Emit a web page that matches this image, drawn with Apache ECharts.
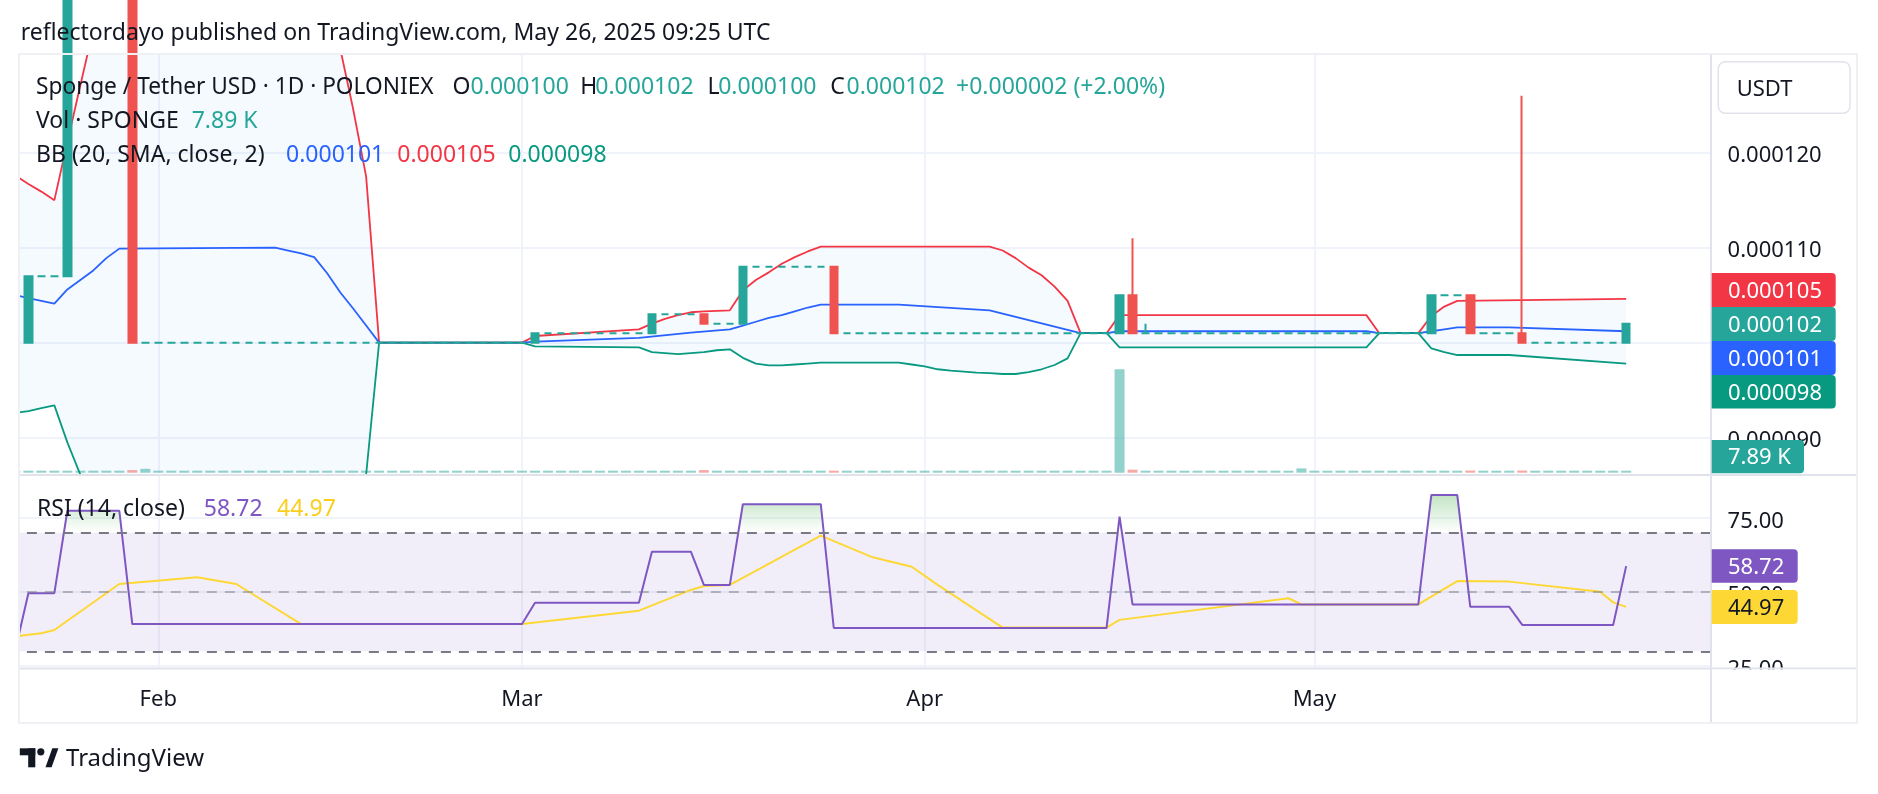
<!DOCTYPE html>
<html>
<head>
<meta charset="utf-8">
<script src="https://cdn.jsdelivr.net/npm/echarts@6.0.0/dist/echarts.min.js"></script>
<style>
  html, body { margin: 0; padding: 0; background: #fff; }
  #chart { width: 1878px; height: 794px; }
</style>
</head>
<body>
<div id="chart"></div>
<script>
// SPONGE / USDT, 1D, Poloniex. prices are in micro-USDT (1e-6), day 0 = 2025-01-21
const startDate = Date.UTC(2025, 0, 21);
const slotCount = 131; // days incl. the empty space right of the last bar
const monthNames = ['Jan', 'Feb', 'Mar', 'Apr', 'May', 'Jun'];

const opens = [
  100, 100, 107, 107, 107, 136, 136, 136, 136, 136,
  100, 100, 100, 100, 100, 100, 100, 100, 100, 100,
  100, 100, 100, 100, 100, 100, 100, 100, 100, 100,
  100, 100, 100, 100, 100, 100, 100, 100, 100, 100,
  100, 101, 101, 101, 101, 101, 101, 101, 101, 101,
  103, 103, 103, 103, 102, 102, 102, 108, 108, 108,
  108, 108, 108, 108, 101, 101, 101, 101, 101, 101,
  101, 101, 101, 101, 101, 101, 101, 101, 101, 101,
  101, 101, 101, 101, 101, 101, 105, 101, 101, 101,
  101, 101, 101, 101, 101, 101, 101, 101, 101, 101,
  101, 101, 101, 101, 101, 101, 101, 101, 101, 101,
  105, 105, 105, 101, 101, 101, 101, 100, 100, 100,
  100, 100, 100, 100, 100
];
const closes = [
  100, 107, 107, 107, 136, 136, 136, 136, 136, 100,
  100, 100, 100, 100, 100, 100, 100, 100, 100, 100,
  100, 100, 100, 100, 100, 100, 100, 100, 100, 100,
  100, 100, 100, 100, 100, 100, 100, 100, 100, 100,
  101, 101, 101, 101, 101, 101, 101, 101, 101, 103,
  103, 103, 103, 102, 102, 102, 108, 108, 108, 108,
  108, 108, 108, 101, 101, 101, 101, 101, 101, 101,
  101, 101, 101, 101, 101, 101, 101, 101, 101, 101,
  101, 101, 101, 101, 101, 105, 101, 101, 101, 101,
  101, 101, 101, 101, 101, 101, 101, 101, 101, 101,
  101, 101, 101, 101, 101, 101, 101, 101, 101, 105,
  105, 105, 101, 101, 101, 101, 100, 100, 100, 100,
  100, 100, 100, 100, 102
];
const lows = [
  100, 100, 107, 107, 107, 136, 136, 136, 136, 100,
  100, 100, 100, 100, 100, 100, 100, 100, 100, 100,
  100, 100, 100, 100, 100, 100, 100, 100, 100, 100,
  100, 100, 100, 100, 100, 100, 100, 100, 100, 100,
  100, 101, 101, 101, 101, 101, 101, 101, 101, 101,
  103, 103, 103, 102, 102, 102, 102, 108, 108, 108,
  108, 108, 108, 101, 101, 101, 101, 101, 101, 101,
  101, 101, 101, 101, 101, 101, 101, 101, 101, 101,
  101, 101, 101, 101, 101, 101, 101, 101, 101, 101,
  101, 101, 101, 101, 101, 101, 101, 101, 101, 101,
  101, 101, 101, 101, 101, 101, 101, 101, 101, 101,
  105, 105, 101, 101, 101, 101, 100, 100, 100, 100,
  100, 100, 100, 100, 100
];
const highs = [
  100, 107, 107, 107, 136, 136, 136, 136, 136, 136,
  100, 100, 100, 100, 100, 100, 100, 100, 100, 100,
  100, 100, 100, 100, 100, 100, 100, 100, 100, 100,
  100, 100, 100, 100, 100, 100, 100, 100, 100, 100,
  101, 101, 101, 101, 101, 101, 101, 101, 101, 103,
  103, 103, 103, 103, 102, 102, 108, 108, 108, 108,
  108, 108, 108, 108, 101, 101, 101, 101, 101, 101,
  101, 101, 101, 101, 101, 101, 101, 101, 101, 101,
  101, 101, 101, 101, 101, 105, 111, 102, 101, 101,
  101, 101, 101, 101, 101, 101, 101, 101, 101, 101,
  101, 101, 101, 101, 101, 101, 101, 101, 101, 105,
  105, 105, 105, 101, 101, 101, 126, 100, 100, 100,
  100, 100, 100, 100, 102
];
const volumes = [
  0, 15000, 0, 0, 20000, 0, 0, 0, 0, 30000,
  45000, 0, 0, 0, 0, 0, 0, 0, 0, 0,
  0, 0, 0, 0, 0, 0, 0, 0, 0, 0,
  0, 0, 0, 0, 0, 0, 0, 0, 0, 0,
  8000, 0, 0, 0, 0, 0, 0, 0, 0, 12000,
  0, 0, 0, 30000, 0, 0, 15000, 0, 0, 0,
  0, 0, 0, 22000, 0, 0, 0, 0, 0, 0,
  0, 0, 0, 0, 0, 0, 0, 0, 0, 0,
  0, 0, 0, 0, 0, 1200000, 35000, 5000, 0, 0,
  0, 0, 0, 0, 0, 0, 0, 0, 0, 50000,
  0, 0, 0, 0, 0, 0, 0, 0, 0, 14000,
  0, 0, 25000, 0, 0, 0, 25000, 0, 0, 0,
  0, 0, 0, 0, 7890
];

// Bollinger bands (20, 2) as [day, value] vertices
const bbUpper = [
  [0, 117.6], [1, 116.7], [2, 115.9], [3, 115.0], [4, 121.1], [5, 127.1], [6, 133.0], [7, 137.5],
  [8, 140.2], [24, 140.0], [25, 131.0], [26, 124.6], [27, 117.5], [28, 100], [39, 100], [40, 100.7],
  [48, 101.4], [49, 102.0], [50, 102.5], [51, 102.9], [52, 103.2], [53, 103.3], [55, 103.4],
  [56, 105.5], [57, 106.6], [58, 107.4], [59, 108.3], [60, 109.0], [61, 109.6], [62, 110.1],
  [75, 110.1], [76, 109.7], [77, 108.9], [78, 107.9], [79, 107.1], [80, 105.9], [81, 104.4],
  [82, 101.0], [84, 101.0], [85, 102.9], [104, 102.9], [105, 101.0], [108, 101.0], [109, 102.8],
  [110, 103.8], [111, 104.4], [124, 104.6]
];
const bbBasis = [
  [0, 105.0], [1, 104.7], [2, 104.4], [3, 104.1], [4, 105.6], [5, 106.6], [6, 107.6], [7, 108.9],
  [8, 109.9], [20, 110.0], [21, 109.7], [22, 109.4], [23, 109.0], [24, 107.3], [25, 105.3],
  [26, 103.6], [27, 101.8], [28, 100], [39, 100], [40, 100.1], [48, 100.5], [52, 101.05],
  [55, 101.4], [56, 101.8], [57, 102.2], [58, 102.6], [59, 102.9], [60, 103.3], [61, 103.7],
  [62, 104.0], [68, 104.0], [75, 103.4], [82, 101.0], [84, 101.0], [85, 101.2], [104, 101.2],
  [105, 101.0], [108, 101.0], [109, 101.2], [110, 101.4], [111, 101.6], [115, 101.6], [124, 101.2]
];
const bbLower = [
  [0, 92.6], [1, 92.8], [2, 93.1], [3, 93.4], [4, 89.5], [5, 86.1], [6, 82.2], [7, 79.0],
  [8, 78.0], [24, 75.0], [25, 79.6], [26, 82.6], [27, 86.1], [28, 100], [39, 100], [40, 99.6],
  [48, 99.5], [49, 99.0], [50, 98.9], [51, 98.8], [52, 98.9], [53, 99.0], [54, 99.2], [55, 99.3],
  [56, 98.4], [57, 97.8], [58, 97.6], [59, 97.6], [60, 97.7], [61, 97.8], [62, 97.9], [68, 97.9],
  [69, 97.7], [70, 97.5], [71, 97.2], [72, 97.05], [73, 96.95], [74, 96.85], [75, 96.8],
  [76, 96.7], [77, 96.7], [78, 96.9], [79, 97.2], [80, 97.65], [81, 98.35], [82, 101.0],
  [84, 101.0], [85, 99.5], [104, 99.5], [105, 101.0], [108, 101.0], [109, 99.4], [110, 99.0],
  [111, 98.7], [115, 98.7], [124, 97.8]
];

// RSI (14) and its 14-bar SMA
const rsi = [
  [0, 30.5], [1, 49.6], [3, 49.6], [4, 77.4], [8, 77.4], [9, 39.2], [39, 39.2], [40, 46.4],
  [48, 46.4], [49, 63.6], [52, 63.6], [53, 52.4], [55, 52.4], [56, 79.6], [62, 79.6], [63, 37.9],
  [84, 37.9], [85, 75.4], [86, 45.8], [108, 45.8], [109, 82.7], [111, 82.7], [112, 45.0],
  [115, 45.0], [116, 38.9], [123, 38.9], [124, 58.72]
];
const rsiMa = [
  [0, 35.0], [1, 35.6], [2, 36.1], [3, 37.2], [8, 52.7], [14, 55.0], [17, 52.7], [22, 39.2],
  [39, 39.2], [48, 43.7], [52, 50.7], [53, 52.0], [55, 52.4], [62, 69.0], [66, 61.7], [69, 58.5],
  [71, 52.4], [76, 38.0], [84, 38.0], [85, 40.6], [98, 47.9], [99, 45.8], [108, 45.8], [111, 53.7],
  [115, 53.5], [122, 50.1], [123, 46.5], [124, 44.97]
];

const priceTicks = [90, 100, 110, 120];
const rsiTicks = [25, 50, 75];

const FONT = "'Noto Sans', sans-serif";
const UP = '#26A69A', DOWN = '#EF5350';
const fmtPrice = v => (v / 1e6).toFixed(6);

const categories = [];
for (let i = 0; i < slotCount; i++) {
  categories.push(new Date(startDate + i * 86400000).toISOString().slice(0, 10));
}
const isMonthStart = (idx, val) => val.slice(8) === '01';

const candles = opens.map((o, i) => [o, closes[i], lows[i], highs[i]]);
const volData = volumes.map((v, i) => ({
  value: v,
  itemStyle: { color: closes[i] < opens[i] ? 'rgba(239,83,80,0.5)' : 'rgba(38,166,154,0.5)' }
}));

const gridX = { left: 8.9, right: 167.4 };

// ---- overlay texts / tags ----
function txt(text, x, y, color, size) {
  return { type: 'text', z: 90, silent: true,
    style: { text: text, x: x, y: y, fill: color, font: (size || 23) + 'px ' + FONT, verticalAlign: 'middle' } };
}
function box(x, y, w, h, fill, r) {
  return { type: 'rect', z: 80, silent: true, shape: { x: x, y: y, width: w, height: h, r: r || 0 }, style: { fill: fill } };
}
function tag(text, y, h, w, fill, color) {
  return [box(1711.7, y, w, h, fill, [0, 4, 4, 0]), txt(text, 1728, y + h / 2 + 1.5, color, 22)];
}

const last = closes.length - 1;
const chg = closes[last] - closes[last - 1];
const pct = chg / closes[last - 1] * 100;
const lastUpper = bbUpper[bbUpper.length - 1][1];
const lastBasis = bbBasis[bbBasis.length - 1][1];
const lastLower = bbLower[bbLower.length - 1][1];
const lastRsi = rsi[rsi.length - 1][1];
const lastRsiMa = rsiMa[rsiMa.length - 1][1];
const volText = (volumes[last] / 1000).toFixed(2) + ' K';

const row1 = 87.5, row2 = 121.5, row3 = 155.5, rsiRow = 509.5;

const graphics = [
  // white margin left of the panes
  box(0, 50, 19, 676, '#ffffff'),
  // frame and pane separators
  { type: 'rect', z: 85, silent: true, shape: { x: 19, y: 54, width: 1838, height: 669 },
    style: { fill: 'none', stroke: '#EEF0F4', lineWidth: 2 } },
  box(19, 474, 1838, 2, '#E0E3EB'),
  box(19, 667.5, 1838, 2, '#E0E3EB'),
  box(1710, 54, 2, 669, '#E0E3EB'),
  // hide the part of the RSI axis label below the pane
  box(1712, 669.5, 1144, 52, '#ffffff'),
  // currency button
  { type: 'rect', z: 85, silent: true, shape: { x: 1718.3, y: 61.7, width: 131.7, height: 51.6, r: 7 },
    style: { fill: '#ffffff', stroke: '#E0E3EB', lineWidth: 1.5 } },
  txt('USDT', 1736.7, 89.5, '#131722', 22),
  // header
  txt('reflectordayo published on TradingView.com, May 26, 2025 09:25 UTC', 20.7, 33, '#131722'),
  // legend
  txt('Sponge / Tether USD · 1D · POLONIEX', 36, row1, '#131722', 22.7),
  txt('O', 452.6, row1, '#131722'), txt(fmtPrice(opens[last]), 470.6, row1, UP),
  txt('H', 580.3, row1, '#131722'), txt(fmtPrice(highs[last]), 595.3, row1, UP),
  txt('L', 707.4, row1, '#131722'), txt(fmtPrice(lows[last]), 718.2, row1, UP),
  txt('C', 830.3, row1, '#131722'), txt(fmtPrice(closes[last]), 846.5, row1, UP),
  txt('+' + fmtPrice(chg) + ' (+' + pct.toFixed(2) + '%)', 956, row1, UP),
  txt('Vol · SPONGE', 36, row2, '#131722'), txt(volText, 191.7, row2, UP),
  txt('BB (20, SMA, close, 2)', 36, row3, '#131722'),
  txt(fmtPrice(lastBasis), 286, row3, '#2962FF'),
  txt(fmtPrice(lastUpper), 397.3, row3, '#F23645'),
  txt(fmtPrice(lastLower), 508.3, row3, '#089981'),
  txt('RSI (14, close)', 37, rsiRow, '#131722'),
  txt(lastRsi.toFixed(2), 203.8, rsiRow, '#7E57C2'),
  txt(lastRsiMa.toFixed(2), 277, rsiRow, '#F9CE1D'),
  // TradingView footer
  box(19.8, 748.3, 15.5, 7, '#131722'),
  box(28.2, 748.3, 7.1, 19, '#131722'),
  { type: 'circle', z: 90, silent: true, shape: { cx: 40.8, cy: 751.8, r: 3.6 }, style: { fill: '#131722' } },
  { type: 'polygon', z: 90, silent: true,
    shape: { points: [[45.5, 767.3], [52.3, 748.3], [58.4, 748.3], [51.6, 767.3]] }, style: { fill: '#131722' } },
  txt('TradingView', 66, 759.5, '#131722', 24)
]
  .concat(tag(fmtPrice(lastUpper), 273, 34, 124, '#F23645', '#ffffff'))
  .concat(tag(fmtPrice(closes[last]), 307, 34, 124, UP, '#ffffff'))
  .concat(tag(fmtPrice(lastBasis), 341, 34, 124, '#2962FF', '#ffffff'))
  .concat(tag(fmtPrice(lastLower), 375, 33.5, 124, '#089981', '#ffffff'))
  .concat(tag(volText, 440, 33.3, 92.3, UP, '#ffffff'))
  .concat(tag(lastRsi.toFixed(2), 549.3, 33.4, 86, '#7E57C2', '#ffffff'))
  .concat(tag(lastRsiMa.toFixed(2), 590, 34, 86, '#FDD835', '#131722'));

const gridLine = { color: '#F0F3FA', width: 2 };
const monthSplit = { show: true, interval: isMonthStart, alignWithLabel: true, lineStyle: gridLine };
// top-aligned with a short line box: puts the digits a few px lower, as in the original
const axisText = { color: '#131722', fontSize: 22, fontFamily: FONT, margin: 17, verticalAlign: 'top', lineHeight: 6 };

const option = {
  animation: false,
  backgroundColor: '#ffffff',
  textStyle: { fontFamily: FONT },
  grid: [
    Object.assign({ top: 55, height: 418, outerBoundsMode: 'none' }, gridX),
    Object.assign({ top: 369.3, height: 103.4, outerBoundsMode: 'none' }, gridX),
    Object.assign({ top: 476, height: 192, outerBoundsMode: 'none' }, gridX)
  ],
  xAxis: [
    { type: 'category', gridIndex: 0, data: categories, boundaryGap: true,
      axisLine: { show: false }, axisTick: { show: false }, axisLabel: { show: false }, splitLine: monthSplit },
    { type: 'category', gridIndex: 1, data: categories, boundaryGap: true, show: false },
    { type: 'category', gridIndex: 2, data: categories, boundaryGap: true,
      axisLine: { show: false }, axisTick: { show: false },
      axisLabel: { interval: isMonthStart, formatter: v => monthNames[+v.slice(5, 7) - 1],
        color: '#131722', fontSize: 22, fontFamily: FONT, margin: 21 },
      splitLine: monthSplit }
  ],
  yAxis: [
    { type: 'value', gridIndex: 0, position: 'right', min: 86.28, max: 130.28, scale: true,
      axisLine: { show: false }, axisTick: { show: false, customValues: priceTicks },
      axisLabel: Object.assign({ customValues: priceTicks, formatter: fmtPrice }, axisText),
      splitLine: { show: true, lineStyle: gridLine } },
    { type: 'value', gridIndex: 1, min: 0, max: 1200000, show: false, splitLine: { show: false } },
    { type: 'value', gridIndex: 2, position: 'right', min: 24.37, max: 89.12,
      axisLine: { show: false }, axisTick: { show: false, customValues: rsiTicks },
      axisLabel: Object.assign({ customValues: rsiTicks, formatter: v => v.toFixed(2) }, axisText, { lineHeight: 7 }),
      splitLine: { show: true, lineStyle: gridLine } }
  ],
  series: [
    { // Bollinger background
      type: 'custom', xAxisIndex: 0, yAxisIndex: 0, z: 1, clip: true, silent: true,
      data: [[0, 100]],
      renderItem: function (params, api) {
        const pts = bbUpper.map(p => api.coord(p))
          .concat(bbLower.slice().reverse().map(p => api.coord(p)));
        return { type: 'polygon', shape: { points: pts }, style: { fill: 'rgba(33,150,243,0.05)' } };
      }
    },
    { type: 'line', name: 'Upper', xAxisIndex: 0, yAxisIndex: 0, data: bbUpper, z: 3,
      symbol: 'none', lineStyle: { color: '#F23645', width: 1.8 } },
    { type: 'line', name: 'Basis', xAxisIndex: 0, yAxisIndex: 0, data: bbBasis, z: 3,
      symbol: 'none', lineStyle: { color: '#2962FF', width: 1.8 } },
    { type: 'line', name: 'Lower', xAxisIndex: 0, yAxisIndex: 0, data: bbLower, z: 3,
      symbol: 'none', lineStyle: { color: '#089981', width: 1.8 } },
    { type: 'bar', name: 'Volume', xAxisIndex: 1, yAxisIndex: 1, data: volData, z: 2,
      barWidth: 10, barMinHeight: 2 },
    { type: 'candlestick', name: 'SPONGE/USDT', xAxisIndex: 0, yAxisIndex: 0, data: candles, z: 5,
      barWidth: 8,
      itemStyle: { color: UP, color0: DOWN, borderColor: UP, borderColor0: DOWN, borderColorDoji: UP, borderWidth: 2 } },
    { // RSI bands and levels
      type: 'line', xAxisIndex: 2, yAxisIndex: 2, data: rsi, z: 1, symbol: 'none', silent: true,
      lineStyle: { opacity: 0 },
      markArea: { silent: true, itemStyle: { color: 'rgba(126,87,194,0.1)' }, data: [[{ yAxis: 30 }, { yAxis: 70 }]] },
      markLine: { silent: true, symbol: 'none', label: { show: false },
        lineStyle: { type: [10, 8], color: '#787B86', width: 2 },
        data: [{ yAxis: 70 }, { yAxis: 30 },
          { yAxis: 50, lineStyle: { color: 'rgba(120,123,134,0.5)' } }] }
    },
    { // overbought gradient
      type: 'custom', xAxisIndex: 2, yAxisIndex: 2, z: 2, clip: true, silent: true,
      data: [[0, 70]],
      renderItem: function (params, api) {
        const y70 = api.coord([0, 70])[1];
        const y100 = api.coord([0, 100])[1];
        const pts = rsi.map(p => api.coord(p));
        const cross = (a, b) => [a[0] + (y70 - a[1]) / (b[1] - a[1]) * (b[0] - a[0]), y70];
        const runs = [];
        let run = null;
        for (let k = 0; k < pts.length; k++) {
          if (rsi[k][1] > 70) {
            if (!run) { run = k > 0 ? [cross(pts[k - 1], pts[k])] : []; }
            run.push(pts[k]);
          } else if (run) {
            run.push(cross(pts[k - 1], pts[k]));
            runs.push(run);
            run = null;
          }
        }
        if (run) runs.push(run);
        const fill = new echarts.graphic.LinearGradient(0, y100, 0, y70, [
          { offset: 0, color: 'rgba(76,175,80,0.8)' },
          { offset: 1, color: 'rgba(76,175,80,0)' }
        ], true);
        return { type: 'group', children: runs.map(r => ({ type: 'polygon', shape: { points: r }, style: { fill: fill } })) };
      }
    },
    { type: 'line', name: 'RSI-based MA', xAxisIndex: 2, yAxisIndex: 2, data: rsiMa, z: 3,
      symbol: 'none', lineStyle: { color: '#FDD835', width: 2 } },
    { type: 'line', name: 'RSI', xAxisIndex: 2, yAxisIndex: 2, data: rsi, z: 4,
      symbol: 'none', lineStyle: { color: '#7E57C2', width: 2 } }
  ],
  graphic: { elements: graphics }
};

const chart = echarts.init(document.getElementById('chart'));
chart.setOption(option);
</script>
</body>
</html>
